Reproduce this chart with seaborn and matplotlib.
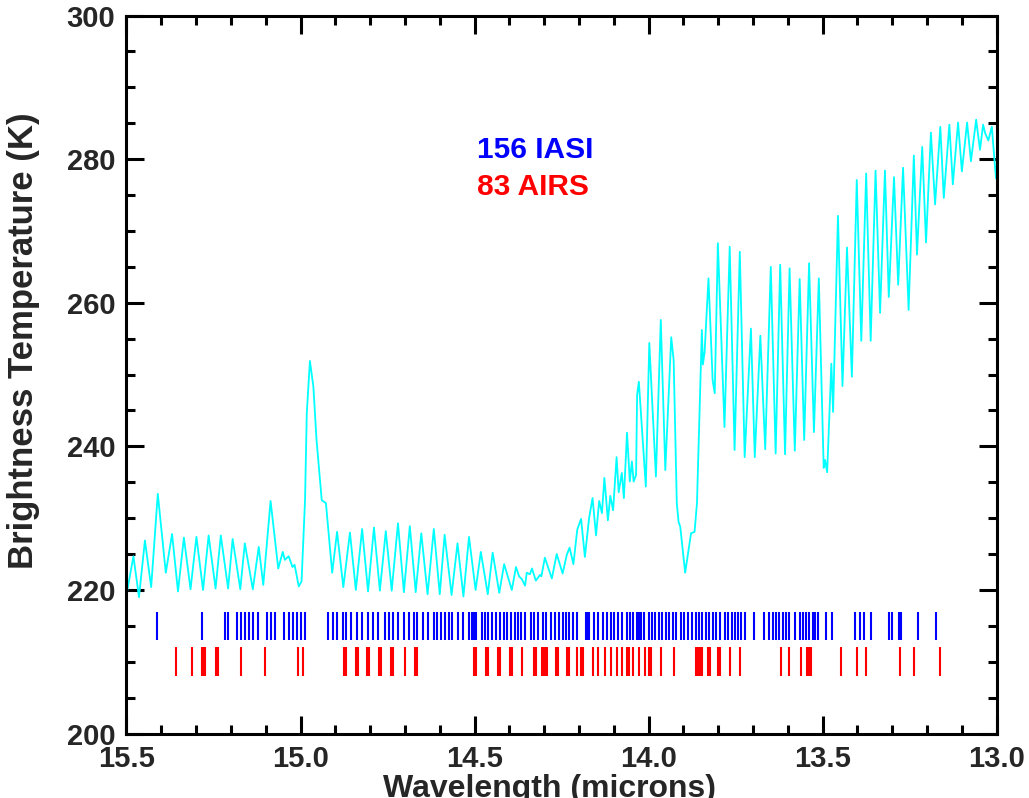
import matplotlib
matplotlib.use("Agg")
import matplotlib.pyplot as plt
import seaborn as sns
import pandas as pd
from matplotlib.ticker import MultipleLocator, FixedLocator, FormatStrFormatter

# ---------------- data ----------------
wavelength = [
    15.500, 15.480, 15.464, 15.447, 15.429, 15.410, 15.387, 15.369, 15.352, 15.335,
    15.316, 15.299, 15.280, 15.264, 15.244, 15.229, 15.208, 15.195, 15.173, 15.160,
    15.137, 15.120, 15.107, 15.086, 15.064, 15.051, 15.045, 15.034, 15.023, 15.017,
    15.005, 14.997, 14.987, 14.982, 14.973, 14.963, 14.954, 14.939, 14.927, 14.909,
    14.895, 14.877, 14.858, 14.841, 14.823, 14.806, 14.789, 14.772, 14.755, 14.738,
    14.720, 14.703, 14.686, 14.669, 14.653, 14.635, 14.617, 14.600, 14.586, 14.566,
    14.549, 14.532, 14.516, 14.497, 14.482, 14.462, 14.448, 14.429, 14.415, 14.393,
    14.381, 14.372, 14.364, 14.355, 14.350, 14.341, 14.335, 14.324, 14.312, 14.308,
    14.298, 14.278, 14.264, 14.247, 14.235, 14.227, 14.216, 14.205, 14.194, 14.183,
    14.171, 14.161, 14.151, 14.142, 14.134, 14.127, 14.117, 14.110, 14.102, 14.092,
    14.086, 14.077, 14.071, 14.062, 14.054, 14.048, 14.043, 14.036, 14.033, 14.028,
    14.008, 13.998, 13.979, 13.965, 13.952, 13.935, 13.928, 13.919, 13.914, 13.909,
    13.895, 13.878, 13.868, 13.861, 13.847, 13.844, 13.839, 13.828, 13.816, 13.810,
    13.801, 13.782, 13.767, 13.753, 13.738, 13.724, 13.706, 13.695, 13.679, 13.665,
    13.649, 13.635, 13.622, 13.608, 13.595, 13.580, 13.566, 13.553, 13.539, 13.525,
    13.511, 13.497, 13.493, 13.487, 13.475, 13.470, 13.456, 13.443, 13.430, 13.416,
    13.402, 13.389, 13.375, 13.362, 13.348, 13.335, 13.321, 13.310, 13.295, 13.283,
    13.269, 13.253, 13.238, 13.229, 13.214, 13.203, 13.189, 13.177, 13.162, 13.152,
    13.136, 13.126, 13.111, 13.100, 13.085, 13.074, 13.059, 13.048, 13.039, 13.033,
    13.024, 13.014, 13.002, 12.998,
]
brightness_temp = [
    219.3, 224.7, 219.0, 226.9, 220.4, 233.4, 222.4, 227.8, 219.8, 227.3,
    220.1, 227.4, 220.0, 227.6, 220.2, 227.6, 220.2, 227.1, 220.1, 226.5,
    220.1, 226.0, 220.7, 232.4, 223.0, 225.3, 224.2, 224.7, 223.2, 223.5,
    220.5, 221.2, 232.5, 244.6, 251.9, 248.3, 240.9, 232.5, 232.1, 222.4,
    228.1, 220.4, 228.0, 220.0, 228.5, 219.8, 228.7, 219.9, 228.2, 219.9,
    229.3, 219.7, 228.9, 219.7, 227.9, 219.4, 228.5, 219.4, 227.7, 219.3,
    226.5, 219.1, 227.4, 220.0, 225.3, 219.4, 225.2, 219.6, 223.6, 220.0,
    223.2, 221.9, 221.5, 220.6, 222.4, 222.2, 223.0, 221.3, 222.1, 221.9,
    224.5, 221.6, 225.0, 222.3, 224.9, 225.9, 223.6, 228.4, 229.9, 224.6,
    230.0, 232.8, 227.6, 232.4, 230.7, 235.6, 229.7, 233.1, 231.1, 238.5,
    233.6, 236.3, 232.8, 241.9, 235.1, 237.9, 235.1, 236.0, 247.2, 249.0,
    234.4, 254.4, 235.8, 257.6, 236.7, 255.2, 252.0, 232.1, 229.5, 228.8,
    222.4, 227.9, 228.1, 232.1, 256.2, 251.4, 253.2, 263.4, 249.2, 247.4,
    268.3, 242.7, 267.8, 239.5, 267.1, 238.5, 256.4, 238.5, 255.4, 239.6,
    265.0, 239.0, 265.3, 238.9, 264.8, 239.4, 263.3, 240.9, 265.5, 242.0,
    263.4, 237.0, 238.1, 236.4, 251.5, 244.8, 272.1, 248.4, 267.7, 249.7,
    277.1, 254.7, 278.0, 254.7, 278.4, 258.6, 278.4, 260.8, 277.5, 262.5,
    278.8, 259.0, 280.5, 266.7, 281.7, 268.4, 283.7, 273.7, 284.5, 274.6,
    284.8, 276.5, 285.1, 278.3, 285.1, 279.7, 285.5, 281.3, 284.8, 283.6,
    282.6, 284.5, 277.3, 280.1,
]

iasi_channels = [
    15.411, 15.282, 15.218, 15.207, 15.183, 15.171, 15.160, 15.148, 15.137, 15.121,
    15.097, 15.086, 15.074, 15.046, 15.034, 15.023, 15.011, 15.000, 14.988, 14.922,
    14.908, 14.896, 14.879, 14.868, 14.856, 14.839, 14.824, 14.807, 14.791, 14.776,
    14.756, 14.745, 14.733, 14.720, 14.704, 14.687, 14.675, 14.664,
    14.649, 14.633, 14.617, 14.607, 14.597, 14.585, 14.574, 14.564, 14.547, 14.532,
    14.516, 14.506, 14.502, 14.498, 14.495, 14.480, 14.470, 14.461, 14.450, 14.439,
    14.427, 14.416, 14.406, 14.395, 14.384, 14.374, 14.366, 14.355, 14.339, 14.329,
    14.319, 14.304, 14.295, 14.279, 14.268, 14.258, 14.247, 14.237, 14.228, 14.217,
    14.207, 14.180, 14.177, 14.173, 14.170, 14.157, 14.144, 14.130, 14.119, 14.108,
    14.099, 14.087, 14.076, 14.062, 14.054, 14.044, 14.033, 14.030, 14.026, 14.022,
    14.012, 14.000, 13.991, 13.981, 13.971, 13.961, 13.950, 13.940, 13.931, 13.921,
    13.908, 13.898, 13.887, 13.876, 13.864, 13.854, 13.846, 13.836, 13.826, 13.816,
    13.807, 13.796, 13.781, 13.771, 13.761, 13.752, 13.743, 13.734, 13.724, 13.696,
    13.669, 13.654, 13.644, 13.634, 13.624, 13.615, 13.605, 13.596, 13.580, 13.565,
    13.557, 13.548, 13.538, 13.529, 13.521, 13.514, 13.489, 13.474, 13.408, 13.394,
    13.380, 13.361, 13.310, 13.301, 13.282, 13.274, 13.225, 13.174,
]
airs_channels = [
    15.357, 15.312, 15.282, 15.277, 15.273, 15.244, 15.238, 15.171, 15.103, 15.006,
    14.992, 14.875, 14.869, 14.842, 14.836, 14.808, 14.802, 14.774, 14.768, 14.740,
    14.734, 14.700,
    14.672, 14.666, 14.502, 14.496, 14.466, 14.461, 14.432, 14.426, 14.398, 14.393,
    14.365, 14.329, 14.324, 14.306, 14.302, 14.297, 14.292, 14.267, 14.261, 14.234,
    14.228, 14.205, 14.193, 14.189, 14.160, 14.144, 14.126, 14.108, 14.092, 14.075,
    14.062, 14.056, 14.046, 14.029, 14.011, 13.999, 13.993, 13.965, 13.926,
    13.863, 13.857, 13.852, 13.846, 13.829, 13.823, 13.800, 13.795, 13.766, 13.738,
    13.620, 13.597, 13.563, 13.544, 13.538, 13.533, 13.448, 13.402, 13.375, 13.278,
    13.238, 13.164,
]

x_ticks = [15.5, 15.0, 14.5, 14.0, 13.5, 13.0]
y_ticks = [200, 220, 240, 260, 280, 300]
legend_labels = ["156 IASI", "83 AIRS"]
x_label = "Wavelength (microns)"
y_label = "Brightness Temperature (K)"

# ---------------- style ----------------
sns.set_style("ticks")
plt.rcParams['font.family'] = ['Liberation Sans', 'DejaVu Sans']
plt.rcParams['font.weight'] = 'bold'

fig = plt.figure(figsize=(10.29, 7.98), dpi=100)
ax = fig.add_axes([0.1229, 0.0807, 0.8457, 0.8998])

df = pd.DataFrame({"wl": wavelength, "bt": brightness_temp})
sns.lineplot(data=df, x="wl", y="bt", ax=ax, color="#00FFFF", lw=1.3,
             estimator=None, sort=False)

ax.vlines(iasi_channels, 213.0, 217.0, color="#0000FF", lw=1.5)
ax.vlines(airs_channels, 208.0, 212.0, color="#FF0000", lw=1.5)

ax.text(14.493, 281.3, legend_labels[0], color="#0000FF", fontsize=21.5,
        fontweight='bold', ha='left', va='center')
ax.text(14.493, 276.1, legend_labels[1], color="#FF0000", fontsize=21.5,
        fontweight='bold', ha='left', va='center')

ax.set_xlim(15.5, 13.0)
ax.set_ylim(200, 300)
ax.xaxis.set_major_locator(FixedLocator(x_ticks))
ax.yaxis.set_major_locator(FixedLocator(y_ticks))
ax.xaxis.set_minor_locator(MultipleLocator(0.1))
ax.yaxis.set_minor_locator(MultipleLocator(5))
ax.xaxis.set_major_formatter(FormatStrFormatter('%.1f'))
ax.yaxis.set_major_formatter(FormatStrFormatter('%d'))

ax.tick_params(which='major', direction='in', length=13, width=2.2,
               top=True, right=True, labelsize=21, pad=8, color='black')
ax.tick_params(which='minor', direction='in', length=6.5, width=2.2,
               top=True, right=True, color='black')
for lab in ax.get_xticklabels() + ax.get_yticklabels():
    lab.set_fontweight('bold')
for sp in ax.spines.values():
    sp.set_visible(True)
    sp.set_linewidth(2.2)
    sp.set_color('black')

ax.set_xlabel(x_label, fontsize=23, fontweight='bold')
ax.set_ylabel(y_label, fontsize=25, fontweight='bold')
ax.xaxis.set_label_coords(0.486, -0.0562)
ax.yaxis.set_label_coords(-0.0995, 0.547)

fig.savefig("out.png", dpi=100, facecolor='white')
